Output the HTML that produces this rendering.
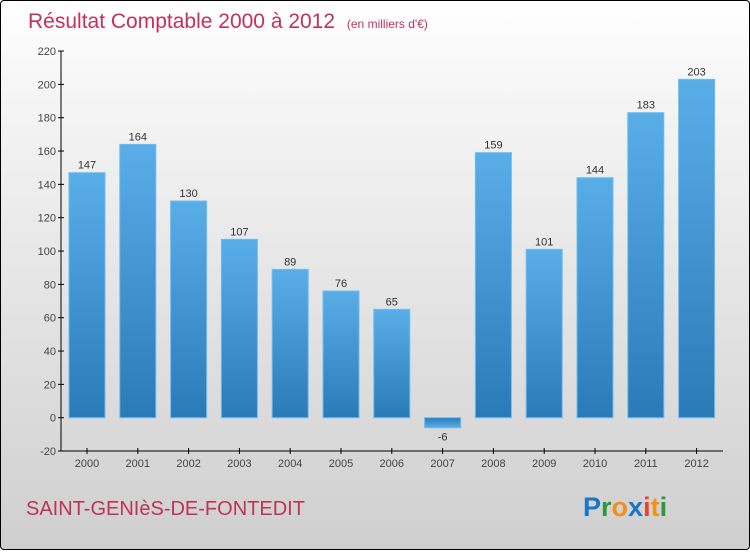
<!DOCTYPE html>
<html><head><meta charset="utf-8"><style>
body{margin:0;width:750px;height:550px;overflow:hidden;font-family:"Liberation Sans",sans-serif}
#c{position:absolute;left:0;top:0;width:748px;height:548px;border:1px solid #000;border-radius:4px;background:linear-gradient(#fff,#f6f6f6 15%,#cfcfcf)}
</style></head><body>
<div id="c">
<svg width="750" height="550">
<defs><linearGradient id="g" x1="0" x2="0" y1="0" y2="1"><stop offset="0" stop-color="#5aaee8"/><stop offset="1" stop-color="#2a7ab8"/></linearGradient>
<linearGradient id="gn" x1="0" x2="0" y1="0" y2="1"><stop offset="0" stop-color="#2a7ab8"/><stop offset="1" stop-color="#5aaee8"/></linearGradient></defs>
<text x="27" y="27" font-size="21" fill="#c0325e">Résultat Comptable 2000 à 2012 <tspan font-size="12" dx="6">(en milliers d'€)</tspan></text>
<g id="axes"></g><g id="bars"></g>
<text x="25" y="514" font-size="20" fill="#c0325e">SAINT-GENIèS-DE-FONTEDIT</text>
<text x="582" y="515" font-size="27" font-weight="bold"><tspan fill="#1a75c8">P</tspan><tspan fill="#2a9a3a">r</tspan><tspan fill="#f39019">o</tspan><tspan fill="#1a75c8">x</tspan><tspan fill="#e8432b">i</tspan><tspan fill="#f39019">t</tspan><tspan fill="#2a9a3a">i</tspan></text>
</svg></div>
<script>
const categories=["2000","2001","2002","2003","2004","2005","2006","2007","2008","2009","2010","2011","2012"];
const values=[147,164,130,107,89,76,65,-6,159,101,144,183,203];
const yTicks=[-20,0,20,40,60,80,100,120,140,160,180,200,220];
const NS="http://www.w3.org/2000/svg";
const y=v=>416.7-(v*400/240);
const x=i=>86+i*50.8;
function mk(t,a,p){const e=document.createElementNS(NS,t);for(const k in a)e.setAttribute(k,a[k]);p.appendChild(e);return e;}
const ax=document.getElementById('axes'),bs=document.getElementById('bars');
const ya=mk('line',{x1:60,x2:60,y1:50,y2:450,stroke:'#000'},ax);


const xa=mk('line',{x1:60,x2:722,y1:450,y2:450,stroke:'#000'},ax);


yTicks.forEach(v=>{mk('line',{x1:57,x2:63,y1:y(v),y2:y(v),stroke:'#000'},ax);
const t=mk('text',{x:55,y:y(v)+4,'font-size':11,fill:'#444','text-anchor':'end'},ax);t.textContent=v;

});
categories.forEach((c,i)=>{mk('line',{x1:x(i),x2:x(i),y1:447,y2:453,stroke:'#000'},ax);
const t=mk('text',{x:x(i),y:466,'font-size':11,fill:'#444','text-anchor':'middle'},ax);t.textContent=c;


const v=values[i],top=Math.min(y(v),y(0)),h=Math.abs(y(v)-y(0));
const r=mk('rect',{x:x(i)-18,y:top,width:36,height:h,fill:v<0?'url(#gn)':'url(#g)',stroke:'#6bbcf0','stroke-width':1},bs);


const l=mk('text',{x:x(i),y:v<0?y(v)+13:y(v)-4,'font-size':11,fill:'#333','text-anchor':'middle'},bs);l.textContent=v;

});
</script></body></html>
